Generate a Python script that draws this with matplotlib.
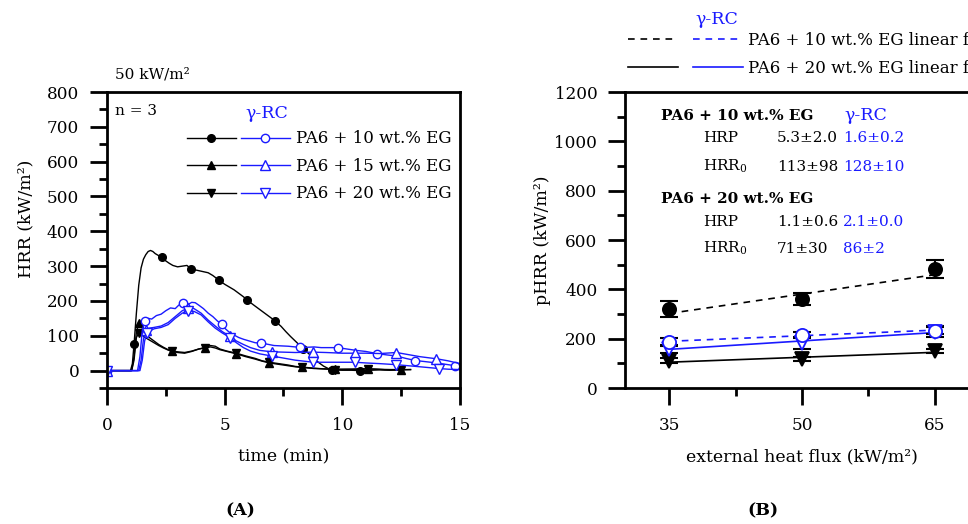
import numpy as np
import matplotlib
matplotlib.use('Agg')
import matplotlib.pyplot as plt
from matplotlib.lines import Line2D
from matplotlib.legend_handler import HandlerTuple

plt.rcParams['font.family'] = ['DejaVu Serif']
plt.rcParams['mathtext.default'] = 'regular'
plt.rcParams['font.size'] = 12

BLUE = '#1a1aff'

# ---- (A) HRR curves, 50 kW/m2 ----
# PA6 + 10 wt.% EG
t_k10 = [0, 1.0, 1.08, 1.15, 1.25, 1.35, 1.45, 1.55, 1.65, 1.75,
         1.85, 1.95, 2.05, 2.2, 2.35, 2.5, 2.65, 2.8, 3.0, 3.2,
         3.4, 3.55, 3.7, 3.9, 4.1, 4.3, 4.5, 4.75, 5.0, 5.2,
         5.4, 5.6, 5.8, 5.95, 6.2, 6.4, 6.6, 6.8, 7.0, 7.15,
         7.4, 7.6, 7.8, 8.0, 8.2, 8.35, 8.6, 8.8, 9.0, 9.2,
         9.4, 9.55, 10.0, 10.4, 10.75, 11.2, 11.6, 12.0, 12.5]
hrr_k10 = [0, 0, 20, 75, 165, 245, 295, 320, 333, 342,
           345, 342, 336, 330, 326, 315, 308, 302, 298, 300,
           302, 293, 290, 287, 284, 281, 273, 260, 248, 240,
           232, 222, 212, 203, 190, 180, 170, 160, 150, 142,
           127, 112, 98, 85, 72, 62, 47, 34, 23, 13,
           6, 2, 1, 1, 0, 1, 2, 1, 2]
mk_k10 = [0, 1.15, 2.35, 3.55, 4.75, 5.95, 7.15, 8.35, 9.55, 10.75]

# PA6 + 15 / 20 wt.% EG share the time base
t_k15 = [0, 1.05, 1.15, 1.25, 1.35, 1.45, 1.6, 1.8, 2.0, 2.2,
         2.4, 2.6, 2.75, 3.0, 3.3, 3.6, 3.9, 4.15, 4.4, 4.6,
         4.8, 5.1, 5.5, 5.9, 6.3, 6.6, 6.9, 7.3, 7.7, 8.0,
         8.3, 8.8, 9.2, 9.7, 10.4, 11.1, 11.8, 12.5, 12.9]
hrr_k15 = [0, 0, 40, 110, 136, 128, 110, 95, 85, 75,
           67, 60, 57, 54, 52, 56, 62, 65, 68, 65,
           60, 55, 48, 40, 33, 27, 22, 18, 14, 11,
           9, 6, 5, 4, 4, 5, 3, 3, 3]
hrr_k20 = [0, 0, 30, 95, 108, 104, 96, 88, 80, 72,
           65, 59, 56, 52, 50, 55, 62, 66, 72, 70,
           62, 56, 50, 42, 35, 28, 24, 20, 16, 12,
           10, 7, 5, 3, 4, 5, 3, 2, 3]
mk_k15 = [0, 1.35, 2.75, 4.15, 5.5, 6.9, 8.3, 9.7, 11.1, 12.5]

# gamma-RC
t_b10 = [0, 1.3, 1.4, 1.5, 1.6, 1.75, 1.9, 2.1, 2.3, 2.5,
         2.7, 2.9, 3.05, 3.25, 3.45, 3.6, 3.75, 3.9, 4.1, 4.3,
         4.5, 4.7, 4.87, 5.0, 5.2, 5.4, 5.6, 5.8, 6.0, 6.3,
         6.55, 6.8, 7.1, 7.4, 7.7, 8.0, 8.2, 8.5, 8.8, 9.1,
         9.5, 9.8, 10.2, 10.6, 11.0, 11.46, 11.9, 12.3, 12.7, 13.1,
         13.5, 14.0, 14.4, 14.8, 15.0]
hrr_b10 = [0, 0, 40, 115, 142, 150, 148, 158, 162, 172,
           180, 178, 188, 194, 190, 196, 195, 188, 178, 165,
           155, 142, 134, 122, 110, 102, 95, 90, 86, 80,
           79, 76, 72, 71, 70, 68, 68, 67, 68, 66,
           66, 66, 62, 58, 55, 49, 45, 42, 35, 29,
           26, 22, 18, 14, 14]
mk_b10 = [0, 1.6, 3.25, 4.87, 6.55, 8.2, 9.8, 11.46, 13.1, 14.8]

t_b15 = [0, 1.35, 1.45, 1.55, 1.65, 1.8, 2.0, 2.3, 2.6, 2.9,
         3.2, 3.46, 3.7, 4.0, 4.3, 4.6, 4.9, 5.23, 5.5, 5.8,
         6.1, 6.5, 7.0, 7.5, 8.0, 8.77, 9.3, 10.0, 10.54, 11.0,
         11.6, 12.3, 12.8, 13.3, 14.0, 14.5, 15.0]
hrr_b15 = [0, 0, 30, 90, 118, 122, 124, 128, 138, 155,
           172, 180, 178, 165, 145, 128, 112, 98, 85, 75,
           66, 58, 54, 53, 52, 53, 52, 50, 50, 50,
           49, 52, 46, 40, 34, 28, 20]
mk_b15 = [0, 1.65, 3.46, 5.23, 7.0, 8.77, 10.54, 12.3, 14.0]

t_b20 = [0, 1.4, 1.5, 1.6, 1.7, 1.85, 2.0, 2.3, 2.6, 2.9,
         3.2, 3.46, 3.7, 4.0, 4.3, 4.6, 4.9, 5.23, 5.5, 5.8,
         6.1, 6.5, 7.0, 7.5, 8.0, 8.77, 9.3, 10.0, 10.54, 11.0,
         11.6, 12.3, 12.8, 13.3, 14.1, 14.5, 15.0]
hrr_b20 = [0, 0, 30, 85, 108, 115, 120, 124, 132, 150,
           165, 172, 170, 160, 140, 122, 108, 95, 80, 66,
           56, 48, 42, 36, 30, 24, 24, 24, 24, 22,
           20, 17, 14, 11, 6, 4, 3]
mk_b20 = [0, 1.7, 3.46, 5.23, 7.0, 8.77, 10.54, 12.3, 14.1]

labels_a = ['PA6 + 10 wt.% EG', 'PA6 + 15 wt.% EG', 'PA6 + 20 wt.% EG']

# ---- (B) peak HRR vs external heat flux ----
flux = [35, 50, 65]
p_k10 = [320, 361, 483]
e_k10 = [32, 24, 37]
p_b10 = [188, 215, 233]
e_b10 = [14, 14, 15]
p_k20 = [110, 118, 150]
e_k20 = [10, 8, 10]
p_b20 = [158, 183, 228]
e_b20 = [14, 25, 22]

fig = plt.figure(figsize=(9.68, 5.24), dpi=100)
axA = fig.add_axes([0.1105, 0.2595, 0.3647, 0.5649])
axB = fig.add_axes([0.6457, 0.2595, 0.3657, 0.5649])


def style_axis(ax):
    for s in ax.spines.values():
        s.set_linewidth(2.0)
    ax.tick_params(which='both', direction='out', width=2.0,
                   top=False, right=False, labelsize=12.2)
    ax.tick_params(which='major', length=12)
    ax.tick_params(axis='x', which='major', pad=9)
    ax.tick_params(axis='y', which='major', pad=8)
    ax.tick_params(which='minor', length=5.5)


def curve(ax, t, y, marks, color, marker, fill, ms):
    idx = [t.index(m) for m in marks]
    ax.plot(t, y, color=color, lw=1.0, marker=marker, markevery=idx,
            ms=ms, mfc=fill, mec=color, mew=1.0)


# ---------- panel A ----------
ax = axA
curve(ax, t_k10, hrr_k10, mk_k10, 'k', 'o', 'k', 5.5)
curve(ax, t_k15, hrr_k15, mk_k15, 'k', '^', 'k', 6)
curve(ax, t_k15, hrr_k20, mk_k15, 'k', 'v', 'k', 6)
curve(ax, t_b10, hrr_b10, mk_b10, BLUE, 'o', 'white', 6)
curve(ax, t_b15, hrr_b15, mk_b15, BLUE, '^', 'white', 6.5)
curve(ax, t_b20, hrr_b20, mk_b20, BLUE, 'v', 'white', 6.5)

ax.set_xlim(0, 15)
ax.set_ylim(-50, 800)
ax.set_xticks([0, 5, 10, 15])
ax.set_xticks([2.5, 7.5, 12.5], minor=True)
ax.set_yticks(range(0, 801, 100))
ax.set_yticks(range(-50, 800, 100), minor=True)
style_axis(ax)
ax.set_xlabel('time (min)', fontsize=12.5)
ax.xaxis.set_label_coords(0.5, -0.203)
ax.set_ylabel('HRR (kW/m²)', fontsize=12.5)
ax.yaxis.set_label_coords(-0.205, 0.57)

fig.text(115 / 968, 1 - 75 / 524, '50 kW/m²', fontsize=11, va='center')
ax.text(0.023, 0.935, 'n = 3', transform=ax.transAxes, fontsize=11,
        va='center')
ax.text(0.453, 0.928, 'γ-RC', transform=ax.transAxes, fontsize=12.5,
        color=BLUE, ha='center', va='center')

handles_a = []
for mk, ms in (('o', 5.5), ('^', 6), ('v', 6)):
    hk = Line2D([], [], color='k', lw=1.0, marker=mk, ms=ms, mfc='k')
    hb = Line2D([], [], color=BLUE, lw=1.0, marker=mk, ms=ms + 0.5,
                mfc='white', mec=BLUE)
    handles_a.append((hk, hb))
ax.legend(handles_a, labels_a, handler_map={tuple: HandlerTuple(ndivide=None, pad=0.3)},
          loc='upper left', bbox_to_anchor=(0.226, 0.87), frameon=False,
          handlelength=6.2, handletextpad=0.35, labelspacing=0.63,
          borderpad=0, borderaxespad=0, numpoints=1, fontsize=12)

# ---------- panel B ----------
ax = axB
# (values, errors, marker, edge colour, face colour, fit style), drawn in this order
series = [(p_k20, e_k20, 'v', 'k', 'k', '-'),
          (p_b20, e_b20, 'v', BLUE, 'white', '-'),
          (p_k10, e_k10, 'o', 'k', 'k', '--'),
          (p_b10, e_b10, 'o', BLUE, 'white', '--')]
xf = np.array(flux, dtype=float)
for p, e, mk, col, fc, ls in series:
    p = np.array(p, dtype=float)
    e = np.array(e, dtype=float)
    k, b = np.polyfit(xf, p, 1, w=1 / e)
    dash = (0, (4, 3.5)) if ls == '--' else '-'
    ax.plot(xf, k * xf + b, color=col, lw=1.2, ls=dash, zorder=2)
    ax.errorbar(xf, p, yerr=e, fmt='none', ecolor='k', elinewidth=1.5,
                capsize=6.5, capthick=1.5, zorder=3)
    ax.plot(xf, p, ls='none', marker=mk, ms=9.5, mfc=fc, mec=col,
            mew=1.3, zorder=4)

ax.set_xlim(30, 70)
ax.set_ylim(0, 1200)
ax.set_xticks(flux)
ax.set_xticks([42.5, 57.5], minor=True)
ax.set_yticks(range(0, 1201, 200))
ax.set_yticks(range(100, 1200, 200), minor=True)
style_axis(ax)
ax.set_xlabel('external heat flux (kW/m²)', fontsize=12.5)
ax.xaxis.set_label_coords(0.5, -0.203)
ax.set_ylabel('pHRR (kW/m²)', fontsize=12.5)
ax.yaxis.set_label_coords(-0.21, 0.5)

fs = 11
ax.text(0.102, 0.905, 'PA6 + 10 wt.% EG', transform=ax.transAxes,
        fontsize=fs, fontweight='bold', va='baseline')
ax.text(0.62, 0.905, 'γ-RC', transform=ax.transAxes, fontsize=12.5,
        color=BLUE, va='baseline')
ax.text(0.102, 0.625, 'PA6 + 20 wt.% EG', transform=ax.transAxes,
        fontsize=fs, fontweight='bold', va='baseline')
rows = [(0.831, 'HRP', '5.3±2.0', '1.6±0.2'),
        (0.733, 'HRR$_0$', '113±98', '128±10'),
        (0.547, 'HRP', '1.1±0.6', '2.1±0.0'),
        (0.456, 'HRR$_0$', '71±30', '86±2')]
for y, name, v1, v2 in rows:
    ax.text(0.22, y, name, transform=ax.transAxes, fontsize=fs, va='baseline')
    ax.text(0.429, y, v1, transform=ax.transAxes, fontsize=fs, va='baseline')
    ax.text(0.616, y, v2, transform=ax.transAxes, fontsize=fs,
            va='baseline', color=BLUE)

# fit legend sits above the frame and runs off the right edge of the figure
handles_b = [(Line2D([], [], color='k', lw=1.2, ls=(0, (4, 3.5))),
              Line2D([], [], color=BLUE, lw=1.2, ls=(0, (4, 3.5)))),
             (Line2D([], [], color='k', lw=1.2),
              Line2D([], [], color=BLUE, lw=1.2))]
ax.legend(handles_b, ['PA6 + 10 wt.% EG linear fit', 'PA6 + 20 wt.% EG linear fit'],
          handler_map={tuple: HandlerTuple(ndivide=None, pad=0.9)},
          loc='upper left', bbox_to_anchor=(0.008, 1.203), frameon=False,
          handlelength=6.9, handletextpad=0.3, labelspacing=0.65,
          borderpad=0, borderaxespad=0, fontsize=12)
fig.text(717 / 968, 1 - 20 / 524, 'γ-RC', fontsize=12.5, color=BLUE,
         ha='center', va='center')

fig.text(240 / 968, 1 - 511 / 524, '(A)', fontsize=12.5, fontweight='bold',
         ha='center', va='center')
fig.text(763 / 968, 1 - 511 / 524, '(B)', fontsize=12.5, fontweight='bold',
         ha='center', va='center')

fig.savefig('out.png', dpi=100)
